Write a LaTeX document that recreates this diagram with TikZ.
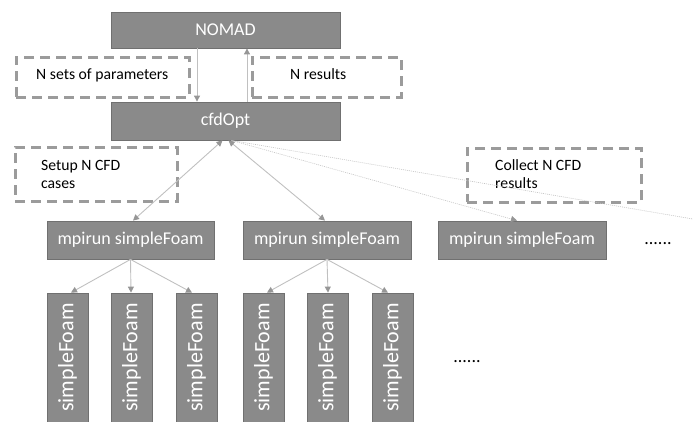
\documentclass[tikz,border=0pt]{standalone}
\usepackage{fontspec}
\setmainfont{Carlito}
\usepackage{graphicx}
\usetikzlibrary{arrows.meta}
\definecolor{boxfill}{RGB}{138,138,138}
\definecolor{boxline}{RGB}{112,112,112}
\definecolor{dashgray}{RGB}{155,155,155}
\definecolor{conngray}{RGB}{192,192,192}
\definecolor{tipgray}{RGB}{150,150,150}
\definecolor{dotgray}{RGB}{195,195,195}
\begin{document}
\begin{tikzpicture}[x=1pt,y=-1pt,
  solidbox/.style={draw=boxline, fill=boxfill, line width=0.8pt, text=white,
    font=\fontsize{18}{20}\selectfont, inner sep=0pt},
  vbox/.style={solidbox, minimum width=41pt, minimum height=129pt,
    font=\fontsize{22}{24}\selectfont},
  dashbox/.style={draw=dashgray, line width=3pt, dash pattern=on 10pt off 6pt, inner sep=0pt},
  txt/.style={font=\fontsize{15.7}{18}\selectfont, align=left, anchor=west, inner sep=0pt},
  dots/.style={font=\fontsize{18}{20}\selectfont, inner sep=0pt},
  conn/.style={draw=conngray, line width=0.9pt},
  onearr/.style={conn, -{Triangle[length=6pt,width=6pt,color=tipgray]}},
  bothar/.style={conn, {Triangle[length=6pt,width=6pt,color=tipgray]}-{Triangle[length=6pt,width=6pt,color=tipgray]}},
  dotline/.style={draw=dotgray, line width=0.6pt, dash pattern=on 1pt off 1pt}
]
\useasboundingbox (0,0) rectangle (693,421);
\clip (0,0) rectangle (693,421);

% main boxes
\node[solidbox, minimum width=229pt, minimum height=36pt] (nomad) at (225.5,30) {NOMAD};
\node[solidbox, minimum width=229pt, minimum height=38pt] (cfd) at (225.5,121) {cfdOpt};

% dashed annotation boxes
\node[dashbox, minimum width=173pt, minimum height=40pt] (params) at (102.5,77) {};
\node[txt] (paramsT) at (36,75) {N sets of parameters};
\node[dashbox, minimum width=149pt, minimum height=40pt] (results) at (326.5,77) {};
\node[txt] (resultsT) at (290,74) {N results};
\node[dashbox, minimum width=162pt, minimum height=54pt] (setup) at (96,174) {};
\node[txt] (setupT) at (41,174) {Setup N CFD\\cases};
\node[dashbox, minimum width=174pt, minimum height=54pt] (collect) at (554,175) {};
\node[txt] (collectT) at (495,174) {Collect N CFD\\results};

% mpirun boxes
\node[solidbox, minimum width=167pt, minimum height=38pt] (mp1) at (130.5,240) {mpirun simpleFoam};
\node[solidbox, minimum width=168pt, minimum height=38pt] (mp2) at (327,240) {mpirun simpleFoam};
\node[solidbox, minimum width=168pt, minimum height=38pt] (mp3) at (522,240) {mpirun simpleFoam};
\node[dots] (dotsA) at (658,244) {......};

% simpleFoam boxes
\node[vbox] (sf1) at (67.5,357.5) {\rotatebox{90}{simpleFoam}};
\node[vbox] (sf2) at (131.5,357.5) {\rotatebox{90}{simpleFoam}};
\node[vbox] (sf3) at (196.5,357.5) {\rotatebox{90}{simpleFoam}};
\node[vbox] (sf4) at (263.5,357.5) {\rotatebox{90}{simpleFoam}};
\node[vbox] (sf5) at (327.5,357.5) {\rotatebox{90}{simpleFoam}};
\node[vbox] (sf6) at (392.5,357.5) {\rotatebox{90}{simpleFoam}};
\node[dots] (dotsB) at (467,362) {......};

\coordinate (offright) at (700,220.2);

% NOMAD <-> cfdOpt
\draw[onearr] ([xshift=-28.5pt]nomad.south) -- ([xshift=-28.5pt]cfd.north);
\draw[onearr] ([xshift=21.5pt]cfd.north) -- ([xshift=21.5pt]nomad.south);

% cfdOpt <-> mpirun
\draw[bothar] ([xshift=-3pt]cfd.south) -- ([xshift=2.5pt]mp1.north);
\draw[bothar] ([xshift=3pt]cfd.south) -- ([xshift=-2pt]mp2.north);
\draw[dotline, -{Triangle[length=6pt,width=6pt,color=tipgray]}] ([xshift=6pt]cfd.south) -- ([xshift=-5pt]mp3.north);
\draw[dotline] ([xshift=6pt]cfd.south) -- (offright);

% mpirun -> simpleFoam
\draw[onearr] (mp1.south) -- ([xshift=3.5pt]sf1.north);
\draw[onearr] (mp1.south) -- ([xshift=-0.5pt]sf2.north);
\draw[onearr] (mp1.south) -- ([xshift=-4.5pt]sf3.north);
\draw[onearr] (mp2.south) -- ([xshift=3.5pt]sf4.north);
\draw[onearr] (mp2.south) -- ([xshift=0.5pt]sf5.north);
\draw[onearr] (mp2.south) -- ([xshift=-4.5pt]sf6.north);
\end{tikzpicture}
\end{document}
